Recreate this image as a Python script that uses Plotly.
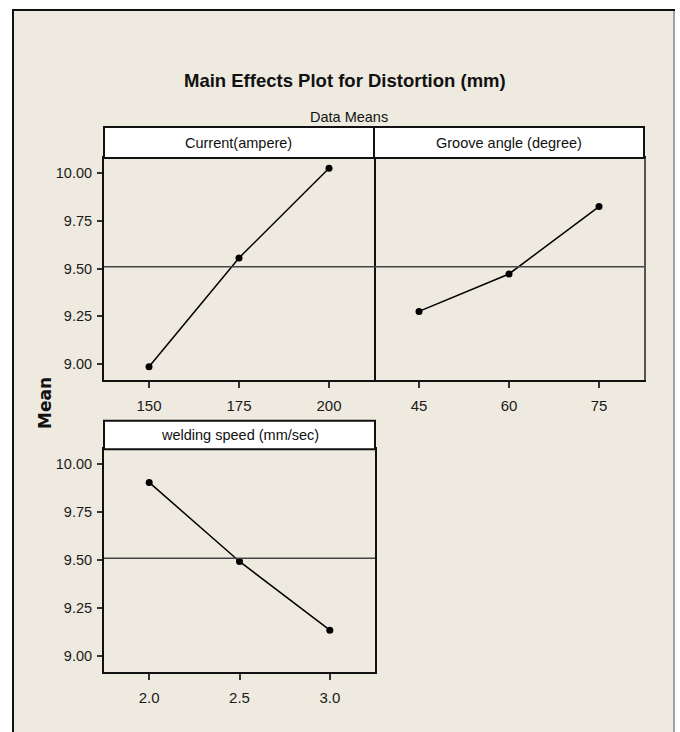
import plotly.graph_objects as go

# ---- data ----
current_levels = [150, 175, 200]
current_means = [8.986, 9.556, 10.025]
groove_levels = [45, 60, 75]
groove_means = [9.276, 9.472, 9.825]
speed_levels = [2.0, 2.5, 3.0]
speed_means = [9.906, 9.493, 9.134]
grand_mean = 9.51
y_ticks = [9.00, 9.25, 9.50, 9.75, 10.00]
y_tick_labels = ["9.00", "9.25", "9.50", "9.75", "10.00"]
panel_titles = ["Current(ampere)", "Groove angle (degree)", "welding speed (mm/sec)"]

W, H = 680, 732
def px(x):
    return x / W
def py(y):
    return 1 - y / H

FONT = "Liberation Sans, Arial, sans-serif"
BEIGE = "#EEEAE0"

fig = go.Figure()

series = [
    (current_levels, current_means, "x", "y"),
    (groove_levels, groove_means, "x2", "y2"),
    (speed_levels, speed_means, "x3", "y3"),
]
for xs, ys, xa, ya in series:
    fig.add_trace(go.Scatter(
        x=xs, y=ys, xaxis=xa, yaxis=ya, mode="lines+markers",
        line=dict(color="black", width=1.5),
        marker=dict(color="black", size=7),
        showlegend=False, hoverinfo="skip"))

yrange = [8.917, 10.079]
common_x = dict(showline=True, linecolor="#111", linewidth=2, mirror=True,
                ticks="outside", ticklen=6, tickcolor="#333", tickwidth=1.5,
                ticklabelstandoff=5,
                showgrid=False, zeroline=False,
                tickfont=dict(family=FONT, size=15, color="#1a1a1a"))
common_y = dict(showline=True, linecolor="#111", linewidth=2, mirror=True,
                ticks="outside", ticklen=5, tickcolor="#333", tickwidth=1.5,
                ticklabelstandoff=2,
                showgrid=False, zeroline=False, range=yrange,
                tickvals=y_ticks, ticktext=y_tick_labels,
                tickfont=dict(family=FONT, size=14.5, color="#1a1a1a"))

top_y = [py(380), py(158)]
bot_y = [py(671.7), py(449.3)]

fig.update_layout(
    width=W, height=H, margin=dict(l=0, r=0, t=0, b=0),
    paper_bgcolor="white", plot_bgcolor="white",
    xaxis=dict(common_x, domain=[px(104), px(374)], range=[137.5, 212.5],
               tickvals=current_levels, ticktext=[str(v) for v in current_levels], anchor="y"),
    yaxis=dict(common_y, domain=top_y, anchor="x"),
    xaxis2=dict(common_x, domain=[px(374), px(644)], range=[37.5, 82.5],
                tickvals=groove_levels, ticktext=[str(v) for v in groove_levels], anchor="y2"),
    yaxis2=dict(common_y, domain=top_y, anchor="x2", showticklabels=False, ticks="",
                mirror=False, side="right", linecolor="#555", linewidth=1.5),
    xaxis3=dict(common_x, domain=[px(104), px(375)], range=[1.75, 3.25],
                tickvals=speed_levels, ticktext=["%.1f" % v for v in speed_levels], anchor="y3"),
    yaxis3=dict(common_y, domain=bot_y, anchor="x3"),
)

shapes = []
# background frame
shapes.append(dict(type="rect", xref="paper", yref="paper", x0=px(13), x1=px(674),
                   y0=-0.02, y1=py(10), fillcolor=BEIGE,
                   line=dict(color="#111", width=2), layer="below"))
shapes.append(dict(type="line", xref="paper", yref="paper", x0=px(674), x1=px(674),
                   y0=-0.02, y1=py(11), line=dict(color="#A0A0A0", width=2), layer="below"))
# strips
strips = [
    (104, 374, 127, 158),
    (374, 644, 127, 158),
    (104, 375, 420.7, 449.3),
]
for (x0, x1, y0, y1), title in zip(strips, panel_titles):
    shapes.append(dict(type="rect", xref="paper", yref="paper", x0=px(x0), x1=px(x1),
                       y0=py(y1), y1=py(y0), fillcolor="white",
                       line=dict(color="#111", width=2)))
    fig.add_annotation(x=px((x0 + x1) / 2), y=py((y0 + y1) / 2), xref="paper", yref="paper",
                       text=title, showarrow=False, xanchor="center", yanchor="middle",
                       font=dict(family=FONT, size=14.5, color="#111"))
# grand mean reference lines
for xa, ya in [("x", "y"), ("x2", "y2"), ("x3", "y3")]:
    shapes.append(dict(type="line", xref=xa + " domain", yref=ya, x0=0, x1=1,
                       y0=grand_mean, y1=grand_mean, line=dict(color="#444", width=1.5)))
fig.update_layout(shapes=shapes)

fig.add_annotation(x=px(345), y=py(81), xref="paper", yref="paper",
                   text="<b>Main Effects Plot for Distortion (mm)</b>", showarrow=False,
                   xanchor="center", yanchor="middle",
                   font=dict(family=FONT, size=18.5, color="#111"))
fig.add_annotation(x=px(349), y=py(117), xref="paper", yref="paper",
                   text="Data Means", showarrow=False,
                   xanchor="center", yanchor="middle",
                   font=dict(family=FONT, size=14.5, color="#111"))
fig.add_annotation(x=px(45), y=py(403), xref="paper", yref="paper",
                   text="<b>Mean</b>", showarrow=False, textangle=-90,
                   xanchor="center", yanchor="middle",
                   font=dict(family="DejaVu Sans, Verdana, sans-serif", size=17, color="#111"))

fig.write_html("out.html", config={"displayModeBar": False},
               post_script="document.body.style.margin='0px';document.body.style.padding='0px';")
